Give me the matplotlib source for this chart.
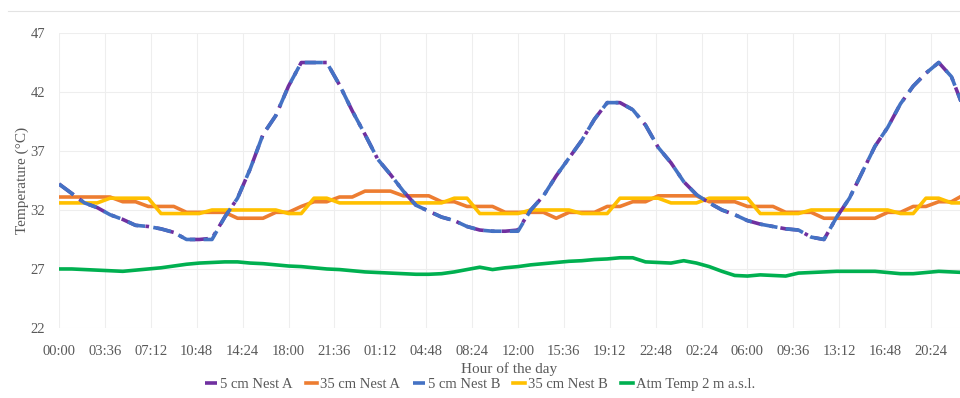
import numpy as np
import matplotlib.pyplot as plt
from matplotlib.lines import Line2D

# hourly readings, 3 days
hours = np.arange(72)

nest_a_5cm = [34.2, 33.4, 32.6, 32.2, 31.6, 31.2, 30.7, 30.6, 30.4, 30.1,
              29.5, 29.5, 29.6, 31.4, 33.0, 35.5, 38.4, 40.0, 42.5, 44.5,
              44.5, 44.5, 42.6, 40.4, 38.4, 36.3, 35.0, 33.6, 32.4, 31.9,
              31.4, 31.1, 30.6, 30.3, 30.2, 30.2, 30.3, 32.0, 33.2, 34.9,
              36.4, 37.9, 39.7, 41.1, 41.1, 40.5, 39.2, 37.3, 36.0, 34.4,
              33.3, 32.6, 32.0, 31.6, 31.1, 30.8, 30.6, 30.4, 30.3, 29.7,
              29.5, 31.4, 33.0, 35.2, 37.4, 39.0, 41.0, 42.5, 43.6, 44.5,
              43.3, 40.5]
nest_b_5cm = [34.2, 33.4, 32.6, 32.2, 31.6, 31.2, 30.7, 30.6, 30.4, 30.1,
              29.5, 29.5, 29.5, 31.4, 33.0, 35.5, 38.4, 40.0, 42.5, 44.5,
              44.5, 44.5, 42.6, 40.4, 38.4, 36.3, 35.0, 33.6, 32.4, 31.9,
              31.4, 31.1, 30.6, 30.3, 30.2, 30.2, 30.2, 32.0, 33.2, 34.9,
              36.4, 37.9, 39.7, 41.1, 41.1, 40.5, 39.2, 37.3, 36.0, 34.4,
              33.3, 32.6, 32.0, 31.6, 31.1, 30.8, 30.6, 30.4, 30.3, 29.7,
              29.5, 31.4, 33.0, 35.2, 37.4, 39.0, 41.0, 42.5, 43.6, 44.5,
              43.3, 40.5]
nest_a_35cm = [33.1, 33.1, 33.1, 33.1, 33.1, 32.7, 32.7, 32.3, 32.3, 32.3,
               31.8, 31.8, 31.8, 31.8, 31.3, 31.3, 31.3, 31.8, 31.8, 32.3,
               32.7, 32.7, 33.1, 33.1, 33.6, 33.6, 33.6, 33.2, 33.2, 33.2,
               32.7, 32.7, 32.3, 32.3, 32.3, 31.8, 31.8, 31.8, 31.8, 31.3,
               31.8, 31.8, 31.8, 32.3, 32.3, 32.7, 32.7, 33.2, 33.2, 33.2,
               33.2, 32.7, 32.7, 32.7, 32.3, 32.3, 32.3, 31.8, 31.8, 31.8,
               31.3, 31.3, 31.3, 31.3, 31.3, 31.8, 31.8, 32.3, 32.3, 32.7,
               32.7, 33.3]
nest_b_35cm = [32.6, 32.6, 32.6, 32.6, 33.0, 33.0, 33.0, 33.0, 31.7, 31.7,
               31.7, 31.7, 32.0, 32.0, 32.0, 32.0, 32.0, 32.0, 31.7, 31.7,
               33.0, 33.0, 32.6, 32.6, 32.6, 32.6, 32.6, 32.6, 32.6, 32.6,
               32.6, 33.0, 33.0, 31.7, 31.7, 31.7, 31.7, 32.0, 32.0, 32.0,
               32.0, 31.7, 31.7, 31.7, 33.0, 33.0, 33.0, 33.0, 32.6, 32.6,
               32.6, 33.0, 33.0, 33.0, 33.0, 31.7, 31.7, 31.7, 31.7, 32.0,
               32.0, 32.0, 32.0, 32.0, 32.0, 32.0, 31.7, 31.7, 33.0, 33.0,
               32.6, 32.6]
atm_2m = [27.0, 27.0, 26.95, 26.9, 26.85, 26.8, 26.9, 27.0, 27.1, 27.25,
          27.4, 27.5, 27.55, 27.6, 27.6, 27.5, 27.45, 27.35, 27.25, 27.2,
          27.1, 27.0, 26.95, 26.85, 26.75, 26.7, 26.65, 26.6, 26.55, 26.55,
          26.6, 26.75, 26.95, 27.15, 26.95, 27.1, 27.2, 27.35, 27.45, 27.55,
          27.65, 27.7, 27.8, 27.85, 27.95, 27.95, 27.6, 27.55, 27.5, 27.7,
          27.5, 27.2, 26.8, 26.45, 26.4, 26.5, 26.45, 26.4, 26.65, 26.7,
          26.75, 26.8, 26.8, 26.8, 26.8, 26.7, 26.6, 26.6, 26.7, 26.8,
          26.75, 26.7]

tick_labels = ['00:00', '03:36', '07:12', '10:48', '14:24', '18:00', '21:36',
               '01:12', '04:48', '08:24', '12:00', '15:36', '19:12', '22:48',
               '02:24', '06:00', '09:36', '13:12', '16:48', '20:24']

txt = '#595959'
plt.rcParams['font.family'] = ['Liberation Serif', 'DejaVu Serif']

fig = plt.figure(figsize=(9.6, 3.98), dpi=100)
ax = fig.add_axes([0.0615, 0.176, 0.9385, 0.741])

lw = 2.6
ax.plot(hours, nest_a_5cm, color='#7030A0', lw=lw, dashes=(5, 2, 1, 2),
        label='5 cm Nest A', zorder=3)
ax.plot(hours, nest_a_35cm, color='#ED7D31', lw=lw, label='35 cm Nest A', zorder=2)
ax.plot(hours, nest_b_5cm, color='#4472C4', lw=lw, dashes=(5, 2.3),
        label='5 cm Nest B', zorder=4)
ax.plot(hours, nest_b_35cm, color='#FFC000', lw=lw, label='35 cm Nest B', zorder=2)
ax.plot(hours, atm_2m, color='#00B050', lw=lw, label='Atm Temp 2 m a.s.l.', zorder=2)

ax.set_xlim(0, 70.67)
ax.set_ylim(22, 47)
ax.set_yticks([22, 27, 32, 37, 42, 47])
ax.set_xticks(np.arange(len(tick_labels)) * 3.6)
ax.set_xticklabels(tick_labels)
ax.tick_params(axis='x', length=0, labelsize=10.5, colors=txt, pad=12)
ax.tick_params(axis='y', length=0, labelsize=10.5, colors=txt, pad=10)
ax.grid(True, color='#EEEEEE', lw=0.8)
ax.set_axisbelow(True)
for s in ax.spines.values():
    s.set_visible(False)

ax.set_xlabel('Hour of the day', fontsize=11, color=txt, labelpad=3)
ax.set_ylabel('Temperature (°C)', fontsize=11, color=txt, labelpad=1)

fig.legend(loc='center', bbox_to_anchor=(0.5, 0.034), ncol=5, frameon=False,
           fontsize=10.5, handlelength=0.8, handletextpad=0.2, columnspacing=0.9,
           labelcolor=txt)

# faint chart-area border at top
fig.add_artist(Line2D([8 / 960, 1], [1 - 11 / 398] * 2, color='#E3E3E3', lw=0.8))

fig.savefig('out.png', dpi=100)
